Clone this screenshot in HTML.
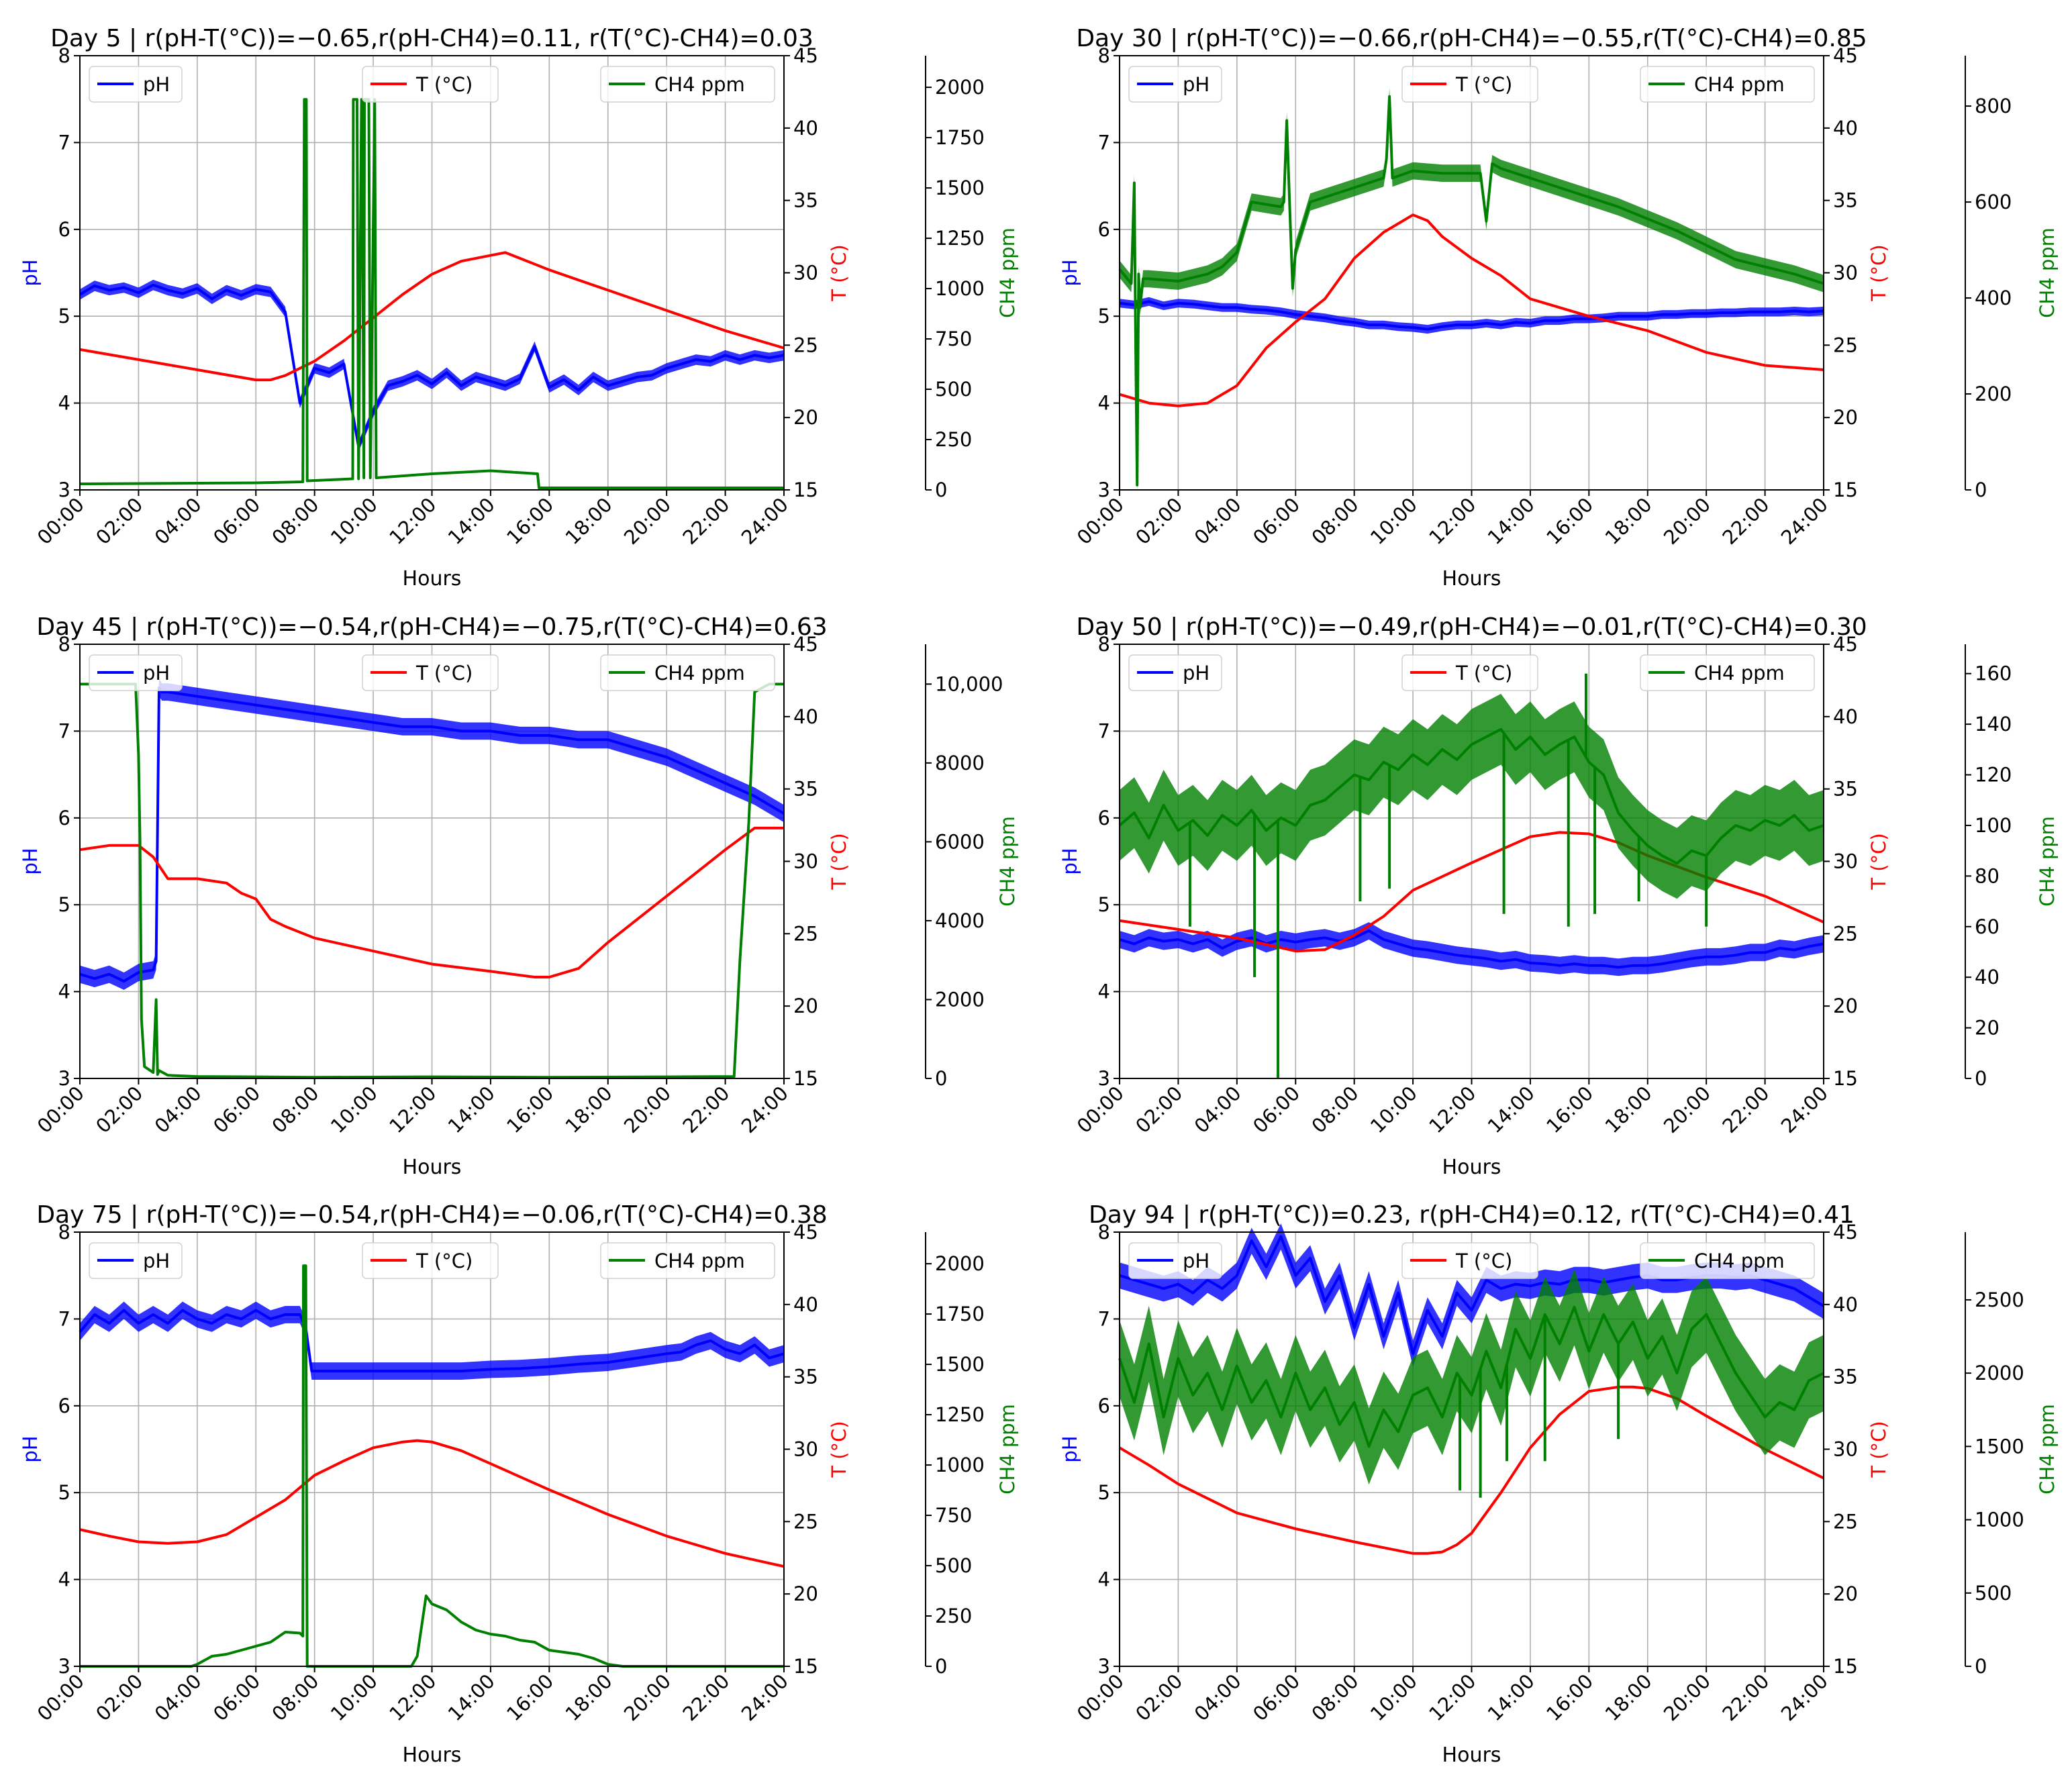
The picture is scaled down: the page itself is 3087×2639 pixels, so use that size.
<!DOCTYPE html>
<html><head><meta charset="utf-8"><style>
html,body{margin:0;padding:0;background:#fff}
svg{display:block;font-family:"DejaVu Sans","Liberation Sans",sans-serif}
</style></head><body>
<svg id="fig" xmlns="http://www.w3.org/2000/svg" width="3087" height="2639" viewBox="0 0 3087 2639"></svg>
<script>
const HH=[0,0.5,1,1.5,2,2.5,3,3.5,4,4.5,5,5.5,6,6.5,7,7.5,8,8.5,9,9.5,10,10.5,11,11.5,12,12.5,13,13.5,14,14.5,15,15.5,16,16.5,17,17.5,18,18.5,19,19.5,20,20.5,21,21.5,22,22.5,23,23.5,24];
const xTicks=["00:00","02:00","04:00","06:00","08:00","10:00","12:00","14:00","16:00","18:00","20:00","22:00","24:00"];
const phTicks=[3,4,5,6,7,8];
const tTicks=[15,20,25,30,35,40,45];

// Day 5
const d5_ph_v=[5.25,5.35,5.3,5.33,5.27,5.36,5.3,5.26,5.32,5.2,5.3,5.24,5.31,5.28,5.05,4.0,4.4,4.35,4.45,3.5,3.9,4.2,4.25,4.32,4.22,4.35,4.2,4.3,4.25,4.2,4.28,4.65,4.18,4.27,4.15,4.3,4.2,4.25,4.3,4.32,4.4,4.45,4.5,4.48,4.55,4.5,4.55,4.52,4.55];
const d5_t_h=[0,2,4,6,6.5,7,8,9,10,11,12,13,14,14.5,15,16,18,20,22,24];
const d5_t_v=[24.7,24.0,23.3,22.6,22.6,22.9,23.9,25.3,26.9,28.5,29.9,30.8,31.2,31.4,31.0,30.2,28.8,27.4,26.0,24.8];
const d5_c_h=[0,6,7.6,7.65,7.72,7.75,9.3,9.32,9.45,9.5,9.6,9.62,9.68,9.7,9.85,9.9,10.05,10.1,12,14,15.6,15.65,24];
const d5_c_v=[30,35,40,1940,1940,45,55,1940,1940,55,1940,1940,60,1940,1940,60,1940,60,80,95,80,10,10];
const d5_c_ticks=[0,250,500,750,1000,1250,1500,1750,2000];
// Day 30
const d30_ph_v=[5.15,5.13,5.17,5.12,5.15,5.14,5.12,5.1,5.1,5.08,5.07,5.05,5.02,5.0,4.98,4.95,4.93,4.9,4.9,4.88,4.87,4.85,4.88,4.9,4.9,4.92,4.9,4.93,4.92,4.95,4.95,4.97,4.97,4.98,5.0,5.0,5.0,5.02,5.02,5.03,5.03,5.04,5.04,5.05,5.05,5.05,5.06,5.05,5.06];
const d30_t_h=[0,1,2,3,4,5,6,7,8,9,10,10.5,11,12,13,14,16,18,20,22,24];
const d30_t_v=[21.6,21.0,20.8,21.0,22.2,24.8,26.6,28.2,31,32.8,34,33.6,32.5,31,29.8,28.2,27,26,24.5,23.6,23.3];
const d30_c_h=[0,0.4,0.5,0.55,0.6,0.65,0.7,0.8,1,2,3,3.5,4,4.5,5,5.5,5.6,5.7,5.8,5.9,6,6.5,7,8,9,9.1,9.2,9.3,10,11,12,12.3,12.5,12.7,13,14,15,16,17,18,19,20,21,22,23,24];
const d30_c_v=[460,430,640,300,10,450,380,440,440,435,450,465,495,600,595,590,600,770,590,420,500,600,610,630,650,690,820,650,665,660,660,660,560,680,670,650,630,610,590,565,540,510,480,465,450,430];
const d30_c_ticks=[0,200,400,600,800];
// Day 45
const d45_ph_h=[0,0.5,1,1.5,2,2.5,2.6,2.7,2.8,3,4,5,6,7,8,9,10,11,12,13,14,15,16,17,18,19,20,21,22,23,24];
const d45_ph_v=[4.2,4.15,4.2,4.12,4.22,4.25,4.35,7.5,7.45,7.45,7.4,7.35,7.3,7.25,7.2,7.15,7.1,7.05,7.05,7.0,7.0,6.95,6.95,6.9,6.9,6.8,6.7,6.55,6.4,6.25,6.05];
const d45_t_h=[0,1,2,2.5,3,4,5,5.5,6,6.5,7,8,10,12,14,15.5,16,17,18,19,20,21,22,23,24];
const d45_t_v=[30.8,31.1,31.1,30.3,28.8,28.8,28.5,27.8,27.4,26.0,25.5,24.7,23.8,22.9,22.4,22.0,22.0,22.6,24.4,26.0,27.6,29.2,30.8,32.3,32.3];
const d45_c_h=[0,1.9,2.0,2.05,2.1,2.2,2.5,2.6,2.65,2.7,3,4,8,12,16,20,22.3,22.5,22.8,23,23.5,24];
const d45_c_v=[10000,10000,8200,6000,1500,300,150,2000,100,200,80,50,30,40,30,40,50,3000,6500,9800,10000,10000];
const d45_c_ticks=[0,2000,4000,6000,8000,10000];
// Day 50
const d50_ph_v=[4.6,4.55,4.62,4.58,4.6,4.55,4.6,4.5,4.58,4.62,4.55,4.6,4.57,4.6,4.62,4.58,4.62,4.7,4.6,4.55,4.5,4.48,4.45,4.42,4.4,4.38,4.35,4.37,4.33,4.32,4.3,4.32,4.3,4.3,4.28,4.3,4.3,4.32,4.35,4.38,4.4,4.4,4.42,4.45,4.45,4.5,4.48,4.52,4.55];
const d50_t_h=[0,2,4,6,7,8,9,10,12,13,14,15,16,17,18,20,22,24];
const d50_t_v=[25.9,25.3,24.7,23.8,23.9,24.9,26.2,28,29.9,30.8,31.7,32,31.9,31.3,30.4,28.9,27.6,25.8];
const d50_c_v=[100,105,95,108,98,102,96,104,100,106,98,103,100,108,110,115,120,118,125,122,128,124,130,126,132,135,138,130,135,128,132,135,125,120,105,98,92,88,85,90,88,95,100,98,102,100,104,98,100];
const d50_dip_h=[2.4,4.6,5.4,8.2,9.2,13.1,15.3,15.9,16.2,17.7,20.0];
const d50_dip_v=[60,40,0,70,75,65,60,160,65,70,60];
const d50_c_ticks=[0,20,40,60,80,100,120,140,160];
// Day 75
const d75_ph_h=[0,0.5,1,1.5,2,2.5,3,3.5,4,4.5,5,5.5,6,6.5,7,7.5,7.7,7.9,8,9,10,11,12,13,14,15,16,17,18,19,20,20.5,21,21.5,22,22.5,23,23.5,24];
const d75_ph_v=[6.85,7.05,6.95,7.1,6.95,7.05,6.95,7.1,7.0,6.95,7.05,7.0,7.1,7.0,7.05,7.05,6.9,6.4,6.4,6.4,6.4,6.4,6.4,6.4,6.42,6.43,6.45,6.48,6.5,6.55,6.6,6.62,6.7,6.75,6.65,6.6,6.7,6.55,6.6];
const d75_t_h=[0,1,2,3,4,5,6,7,8,9,10,11,11.5,12,13,14,16,18,20,22,24];
const d75_t_v=[24.45,24.0,23.6,23.5,23.6,24.1,25.3,26.5,28.2,29.2,30.1,30.5,30.6,30.5,29.9,29.0,27.2,25.5,24.0,22.8,21.9];
const d75_c_h=[0,3.8,4,4.5,5,5.5,6,6.5,7,7.5,7.6,7.62,7.7,7.75,7.8,8,11.3,11.5,11.8,12,12.5,13,13.5,14,14.5,15,15.5,16,16.5,17,17.5,18,18.5,24];
const d75_c_v=[0,0,10,50,60,80,100,120,170,165,150,1990,1990,0,0,0,0,50,350,310,280,220,180,160,150,130,120,80,70,60,40,10,0,0];
const d75_c_ticks=[0,250,500,750,1000,1250,1500,1750,2000];
// Day 94
const d94_ph_v=[7.5,7.45,7.4,7.35,7.4,7.3,7.45,7.35,7.5,7.9,7.6,7.95,7.5,7.7,7.2,7.5,6.9,7.4,6.8,7.3,6.6,7.1,6.8,7.3,7.1,7.45,7.35,7.4,7.38,7.42,7.4,7.45,7.45,7.42,7.45,7.48,7.5,7.45,7.45,7.48,7.5,7.5,7.48,7.5,7.45,7.4,7.35,7.25,7.15];
const d94_t_h=[0,1,2,3,4,6,8,9,10,10.5,11,11.5,12,13,14,15,16,17,17.5,18,19,20,22,24];
const d94_t_v=[30.1,28.9,27.6,26.6,25.6,24.5,23.6,23.2,22.8,22.8,22.9,23.4,24.2,27,30.1,32.4,34.0,34.3,34.3,34.2,33.5,32.3,30,28];
const d94_c_v=[2100,1800,2200,1700,2100,1850,2000,1750,2050,1800,1950,1700,2000,1750,1900,1650,1800,1500,1750,1600,1850,1900,1700,2000,1850,2150,1900,2300,2100,2400,2200,2450,2150,2400,2200,2350,2100,2250,2000,2300,2400,2200,2000,1850,1700,1800,1750,1950,2000];
const d94_dip_h=[11.6,12.3,13.2,14.5,17];
const d94_dip_v=[1200,1150,1400,1400,1550];
const d94_c_ticks=[0,500,1000,1500,2000,2500];

const panels=[
 {name:"day-5",title:"Day 5 | r(pH-T(°C))=−0.65,r(pH-CH4)=0.11, r(T(°C)-CH4)=0.03",L:119,T:83,
  ph:[HH,d5_ph_v,0.06],t:[d5_t_h,d5_t_v],c:[d5_c_h,d5_c_v,0],cmax:2157,cticks:d5_c_ticks},
 {name:"day-30",title:"Day 30 | r(pH-T(°C))=−0.66,r(pH-CH4)=−0.55,r(T(°C)-CH4)=0.85",L:1668,T:83,
  ph:[HH,d30_ph_v,0.05],t:[d30_t_h,d30_t_v],c:[d30_c_h,d30_c_v,18],cmax:905,cticks:d30_c_ticks},
 {name:"day-45",title:"Day 45 | r(pH-T(°C))=−0.54,r(pH-CH4)=−0.75,r(T(°C)-CH4)=0.63",L:119,T:960,
  ph:[d45_ph_h,d45_ph_v,0.1],t:[d45_t_h,d45_t_v],c:[d45_c_h,d45_c_v,0],cmax:11010,cticks:d45_c_ticks},
 {name:"day-50",title:"Day 50 | r(pH-T(°C))=−0.49,r(pH-CH4)=−0.01,r(T(°C)-CH4)=0.30",L:1668,T:960,
  ph:[HH,d50_ph_v,0.1],t:[d50_t_h,d50_t_v],c:[HH,d50_c_v,14],dips:[d50_dip_h,d50_dip_v],cmax:171.6,cticks:d50_c_ticks},
 {name:"day-75",title:"Day 75 | r(pH-T(°C))=−0.54,r(pH-CH4)=−0.06,r(T(°C)-CH4)=0.38",L:119,T:1836,
  ph:[d75_ph_h,d75_ph_v,0.1],t:[d75_t_h,d75_t_v],c:[d75_c_h,d75_c_v,0],cmax:2157,cticks:d75_c_ticks},
 {name:"day-94",title:"Day 94 | r(pH-T(°C))=0.23, r(pH-CH4)=0.12, r(T(°C)-CH4)=0.41",L:1668,T:1836,
  ph:[HH,d94_ph_v,0.15],t:[d94_t_h,d94_t_v],c:[HH,d94_c_v,260],dips:[d94_dip_h,d94_dip_v],cmax:2962,cticks:d94_c_ticks}
];
const W=1049,H=647,NS="http://www.w3.org/2000/svg";
const FS=29;
const svg=document.getElementById('fig');
function mk(tag,attrs,parent){const e=document.createElementNS(NS,tag);for(const k in attrs)e.setAttribute(k,attrs[k]);(parent||svg).appendChild(e);return e;}
function txt(s,attrs,parent){const e=mk('text',attrs,parent);e.textContent=s;return e;}

panels.forEach(p=>{
 const g=mk('g',{});
 
 
 const L=p.L,T=p.T;
 const xs=h=>L+h/24*W;
 const yPh=v=>T+H-(v-3)/5*H;
 const yT=v=>T+H-(v-15)/30*H;
 const yC=v=>T+H-v/p.cmax*H;
 xTicks.forEach((s,i)=>{const x=xs(i*2);
  const gl=mk('line',{x1:x,x2:x,y1:T,y2:T+H,stroke:'#b0b0b0','stroke-width':1.6},g);
  });
 phTicks.forEach(v=>{const y=yPh(v);
  const gl=mk('line',{x1:L,x2:L+W,y1:y,y2:y,stroke:'#b0b0b0','stroke-width':1.6},g);
  });
 function series(hs,vs,yf,color,band,name){
  const pts=hs.map((h,i)=>xs(h).toFixed(1)+','+yf(vs[i]).toFixed(1));
  if(band>0){
   const up=hs.map((h,i)=>xs(h).toFixed(1)+','+yf(vs[i]+band).toFixed(1));
   const dn=hs.map((h,i)=>xs(h).toFixed(1)+','+yf(vs[i]-band).toFixed(1)).reverse();
   const b=mk('polygon',{points:up.concat(dn).join(' '),fill:color,opacity:0.8},g);
   
  }
  const l=mk('polyline',{points:pts.join(' '),fill:'none',stroke:color,'stroke-width':4,'stroke-linejoin':'round'},g);
  
 }
 series(p.ph[0],p.ph[1],yPh,'#0000ff',p.ph[2],'ph');
 series(p.t[0],p.t[1],yT,'#ff0000',0,'temperature');
 series(p.c[0],p.c[1],yC,'#008000',p.c[2],'ch4');
 if(p.dips){p.dips[0].forEach((h,i)=>{
  const hs=p.c[0],vs=p.c[1];let k=0;while(k<hs.length-2&&hs[k+1]<h)k++;
  const f=(h-hs[k])/(hs[k+1]-hs[k]);const base=vs[k]+(vs[k+1]-vs[k])*f;
  const d=mk('line',{x1:xs(h),x2:xs(h),y1:yC(base),y2:yC(p.dips[1][i]),stroke:'#008000','stroke-width':4},g);
  });}
 const fr=mk('rect',{x:L,y:T,width:W,height:H,fill:'none',stroke:'#000','stroke-width':2},g);
 
 xTicks.forEach((s,i)=>{const x=xs(i*2);
  mk('line',{x1:x,x2:x,y1:T+H,y2:T+H+9,stroke:'#000','stroke-width':2},g);
  const t=txt(s,{x:x+8,y:T+H+24,'font-size':FS,'text-anchor':'end',transform:`rotate(-45 ${x+8} ${T+H+24})`},g);
  });
 const xl=txt('Hours',{x:L+W/2,y:T+H+142,'font-size':FS+1,'text-anchor':'middle'},g);
 
 phTicks.forEach(v=>{const y=yPh(v);
  mk('line',{x1:L-9,x2:L,y1:y,y2:y,stroke:'#000','stroke-width':2},g);
  const t=txt(String(v),{x:L-14,y:y+10,'font-size':FS,'text-anchor':'end'},g);
  });
 const pl=txt('pH',{x:L-64,y:T+H/2,'font-size':FS,fill:'#0000ff','text-anchor':'middle',transform:`rotate(-90 ${L-64} ${T+H/2})`},g);
 
 tTicks.forEach(v=>{const y=yT(v);
  mk('line',{x1:L+W,x2:L+W+9,y1:y,y2:y,stroke:'#000','stroke-width':2},g);
  const t=txt(String(v),{x:L+W+14,y:y+10,'font-size':FS},g);
  });
 const tl=txt('T (°C)',{x:L+W+92,y:T+H/2,'font-size':FS,fill:'#ff0000','text-anchor':'middle',transform:`rotate(-90 ${L+W+92} ${T+H/2})`},g);
 
 const cx=L+1260;
 const sp=mk('line',{x1:cx,x2:cx,y1:T,y2:T+H,stroke:'#000','stroke-width':2},g);
 
 p.cticks.forEach(v=>{const y=yC(v);
  mk('line',{x1:cx,x2:cx+9,y1:y,y2:y,stroke:'#000','stroke-width':2},g);
  const t=txt(v>=10000?v.toLocaleString('en-US'):String(v),{x:cx+14,y:y+10,'font-size':FS},g);
  });
 const cl=txt('CH4 ppm',{x:L+1392,y:T+H/2,'font-size':FS,fill:'#008000','text-anchor':'middle',transform:`rotate(-90 ${L+1392} ${T+H/2})`},g);
 
 const ti=txt(p.title,{x:L+W/2,y:T-14,'font-size':36,'text-anchor':'middle'},g);
 
 [[14,138,'#0000ff','pH','ph'],[421,202,'#ff0000','T (°C)','temperature'],[776,259,'#008000','CH4 ppm','ch4']].forEach(lg=>{
  const lgG=mk('g',{},g);
  
  
  mk('rect',{x:L+lg[0],y:T+16,width:lg[1],height:53,rx:6,fill:'#fff','fill-opacity':0.8,stroke:'#d0d0d0','stroke-width':1.5},lgG);
  mk('line',{x1:L+lg[0]+12,x2:L+lg[0]+66,y1:T+42,y2:T+42,stroke:lg[2],'stroke-width':4},lgG);
  txt(lg[3],{x:L+lg[0]+80,y:T+53,'font-size':FS},lgG);
 });
});
</script>
</body></html>
